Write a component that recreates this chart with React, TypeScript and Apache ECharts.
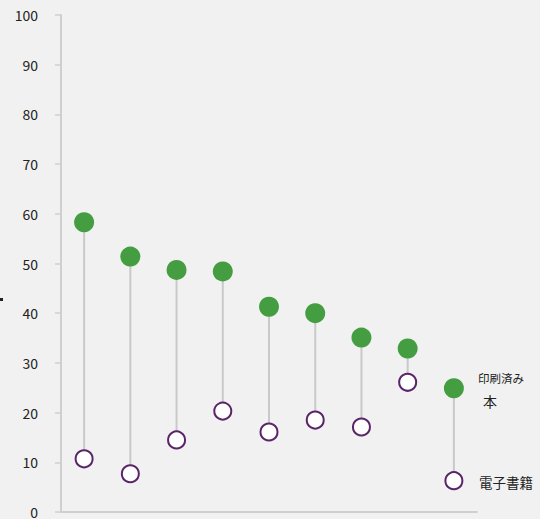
import React, { useEffect, useRef } from "react";
import * as echarts from "echarts";

const categories = ["1", "2", "3", "4", "5", "6", "7", "8", "9"];
const printedBooks = [58.3, 51.4, 48.7, 48.4, 41.3, 40.0, 35.1, 32.9, 24.9];
const eBooks = [10.7, 7.7, 14.5, 20.3, 16.1, 18.5, 17.1, 26.1, 6.3];
const yTicks = [0, 10, 20, 30, 40, 50, 60, 70, 80, 90, 100];
const printedLabelLines = ["印刷済み", "本"];
const eBookLabel = "電子書籍";

const FONT = "'Noto Sans CJK JP', 'Noto Sans', sans-serif";

export default function App() {
  const ref = useRef<HTMLDivElement>(null);
  useEffect(() => {
    if (!ref.current) return;
    const chart = echarts.init(ref.current, null, { renderer: "svg" });
    const linkData = categories.map((_, i) => [i, printedBooks[i], eBooks[i]]);
    chart.setOption({
      animation: false,
      backgroundColor: "#f1f1f1",
      grid: { left: 61, top: 15, right: 63, bottom: 5.5, containLabel: false },
      xAxis: {
        type: "category",
        data: categories,
        boundaryGap: true,
        axisLine: { show: true, lineStyle: { color: "#cfcfcf", width: 2 } },
        axisTick: { show: false },
        axisLabel: { show: false },
        splitLine: { show: false },
      },
      yAxis: {
        type: "value",
        min: yTicks[0],
        max: yTicks[yTicks.length - 1],
        interval: 10,
        axisLine: { show: true, lineStyle: { color: "#cfcfcf", width: 2 } },
        axisTick: { show: true, length: 6, lineStyle: { color: "#cfcfcf", width: 1.5 } },
        axisLabel: { color: "#222", fontSize: 14, fontFamily: FONT, margin: 23 },
        splitLine: { show: false },
      },
      graphic: [
        { type: "rect", left: 0, top: 298, shape: { width: 3, height: 3 }, style: { fill: "#222" } },
        {
          type: "text",
          left: 478,
          top: 372,
          style: { text: printedLabelLines[0], fontSize: 11.5, fontFamily: FONT, fill: "#222" },
        },
        {
          type: "text",
          left: 483,
          top: 394,
          style: { text: printedLabelLines[1], fontSize: 14, fontFamily: FONT, fill: "#222" },
        },
        {
          type: "text",
          left: 479,
          top: 475,
          style: { text: eBookLabel, fontSize: 13.5, fontFamily: FONT, fill: "#222" },
        },
      ],
      series: [
        {
          type: "custom",
          z: 1,
          data: linkData,
          encode: { x: 0, y: [1, 2] },
          renderItem: (params: any, api: any) => {
            const p1 = api.coord([api.value(0), api.value(1)]);
            const p2 = api.coord([api.value(0), api.value(2)]);
            return {
              type: "line",
              shape: { x1: p1[0], y1: p1[1], x2: p2[0], y2: p2[1] },
              style: { stroke: "#c9c9c9", lineWidth: 2 },
            };
          },
        },
        {
          name: "印刷済み本",
          type: "scatter",
          z: 3,
          data: printedBooks,
          symbol: "circle",
          symbolSize: 20,
          itemStyle: { color: "#449e41", opacity: 1 },
        },
        {
          name: "電子書籍",
          type: "scatter",
          z: 3,
          data: eBooks,
          symbol: "circle",
          symbolSize: 17,
          itemStyle: { color: "#ffffff", borderColor: "#5a2468", borderWidth: 2, opacity: 1 },
        },
      ],
    });
    return () => chart.dispose();
  }, []);
  return <div ref={ref} style={{ width: 540, height: 519, position: "absolute", left: 0, top: 0 }} />;
}
